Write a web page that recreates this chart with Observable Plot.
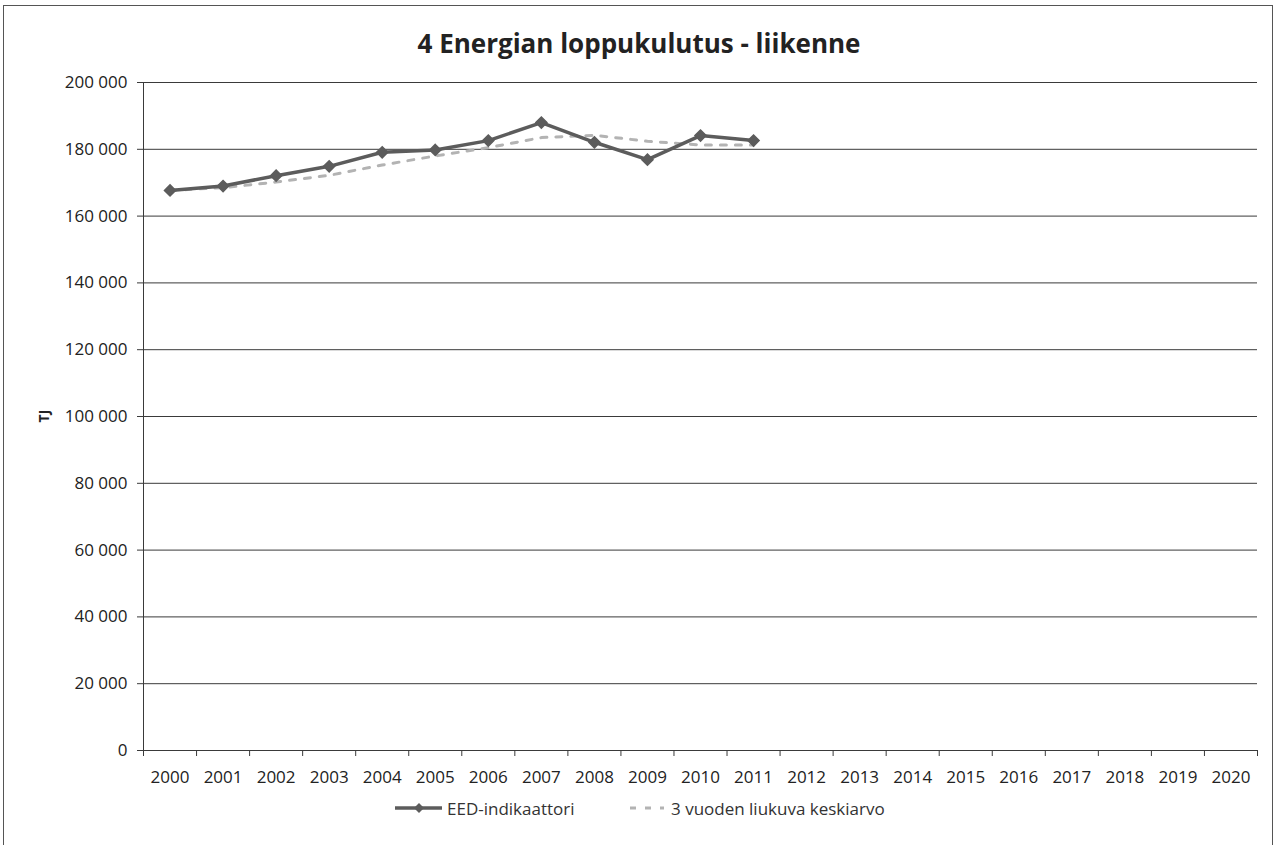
<!DOCTYPE html>
<html>
<head>
<meta charset="utf-8">
<script src="https://cdn.jsdelivr.net/npm/d3@7"></script>
<script src="https://cdn.jsdelivr.net/npm/@observablehq/plot@0.6"></script>
<style>
  html, body { margin: 0; padding: 0; background: #fff; overflow: hidden; }
  body { width: 1278px; height: 845px; position: relative; font-family: "Open Sans", "Liberation Sans", sans-serif; color: #222; }
  #frame { position: absolute; left: 3px; top: 5px; width: 1270px; height: 860px; border: 1px solid #555; box-sizing: border-box; }
  #title { position: absolute; left: 0; top: 25px; width: 1278px; text-align: center; font-size: 26px; font-weight: bold; color: #222; }
  #chart { position: absolute; left: 0; top: 70px; }
  #ylabel { position: absolute; left: 34px; top: 406px; width: 20px; height: 20px; transform: rotate(-90deg); font-size: 14px; font-weight: bold; text-align: center; line-height: 20px; }
  #legend { position: absolute; left: 0; top: 797px; width: 1278px; font-size: 17px; color: #333; }
  .item { position: absolute; top: 0; display: flex; align-items: center; height: 22px; }
  .item svg { margin-right: 5px; }
</style>
</head>
<body>
<div id="frame"></div>
<div id="title">4 Energian loppukulutus - liikenne</div>
<div id="ylabel">TJ</div>
<div id="chart"></div>
<div id="legend"></div>
<script>
const years = [2000, 2001, 2002, 2003, 2004, 2005, 2006, 2007, 2008, 2009, 2010, 2011];
const eed = [167700, 169000, 172100, 174900, 179100, 179800, 182600, 188000, 182100, 176900, 184100, 182600];
const movingAvg = [167700, 168500, 170200, 172200, 175300, 178000, 180500, 183500, 184200, 182400, 181300, 181300];
const axisYears = d3.range(2000, 2021);
const yTicks = [0, 20000, 40000, 60000, 80000, 100000, 120000, 140000, 160000, 180000, 200000];
const seriesNames = ["EED-indikaattori", "3 vuoden liukuva keskiarvo"];

const eedData = years.map((y, i) => ({year: y, value: eed[i]}));
const avgData = years.map((y, i) => ({year: y, value: movingAvg[i]}));
const boundaries = axisYears.map(y => y - 0.5).concat([axisYears[axisYears.length - 1] + 0.5]);
const fmt = d => d3.format(",")(d).replace(/,/g, " ");

const chart = Plot.plot({
  width: 1278,
  height: 720,
  marginLeft: 143,
  marginRight: 21,
  marginTop: 12,
  marginBottom: 40,
  style: {fontFamily: "'Open Sans', sans-serif", fontSize: "17px", color: "#222", background: "transparent"},
  x: {type: "linear", domain: [axisYears[0] - 0.5, axisYears[axisYears.length - 1] + 0.5]},
  y: {domain: [0, 200000]},
  marks: [
    Plot.gridY(yTicks, {stroke: "#3a3a3a", strokeOpacity: 1, strokeWidth: 1}),
    Plot.ruleX([axisYears[0] - 0.5], {stroke: "#3a3a3a", strokeWidth: 1}),
    Plot.axisY({ticks: yTicks, tickFormat: fmt, tickSize: 6, tickPadding: 10, label: null, stroke: "#3a3a3a"}),
    Plot.axisX({ticks: boundaries, tickFormat: () => "", tickSize: 6, label: null, stroke: "#3a3a3a"}),
    Plot.axisX({ticks: axisYears, tickFormat: d => String(d), tickSize: 0, tickPadding: 20, label: null}),
    Plot.line(avgData, {x: "year", y: "value", stroke: "#b3b3b3", strokeWidth: 3, strokeDasharray: "6,9"}),
    Plot.line(eedData, {x: "year", y: "value", stroke: "#5c5c5c", strokeWidth: 3.5}),
    Plot.dot(eedData, {x: "year", y: "value", symbol: "diamond2", r: 5, fill: "#5c5c5c", stroke: "#5c5c5c"})
  ]
});
document.getElementById("chart").appendChild(chart);

const legend = document.getElementById("legend");
const item1 = document.createElement("div");
item1.className = "item";
item1.style.left = "395px";
item1.innerHTML = `<svg width="47" height="16"><line x1="0" y1="8" x2="47" y2="8" stroke="#5c5c5c" stroke-width="3.5"/><path d="M24,3 L29,8 L24,13 L19,8 Z" fill="#5c5c5c"/></svg><span>${seriesNames[0]}</span>`;
const item2 = document.createElement("div");
item2.className = "item";
item2.style.left = "628px";
item2.innerHTML = `<svg width="38" height="16"><line x1="2" y1="8" x2="36" y2="8" stroke="#b3b3b3" stroke-width="3" stroke-dasharray="6,9"/></svg><span>${seriesNames[1]}</span>`;
legend.appendChild(item1);
legend.appendChild(item2);
</script>
</body>
</html>
